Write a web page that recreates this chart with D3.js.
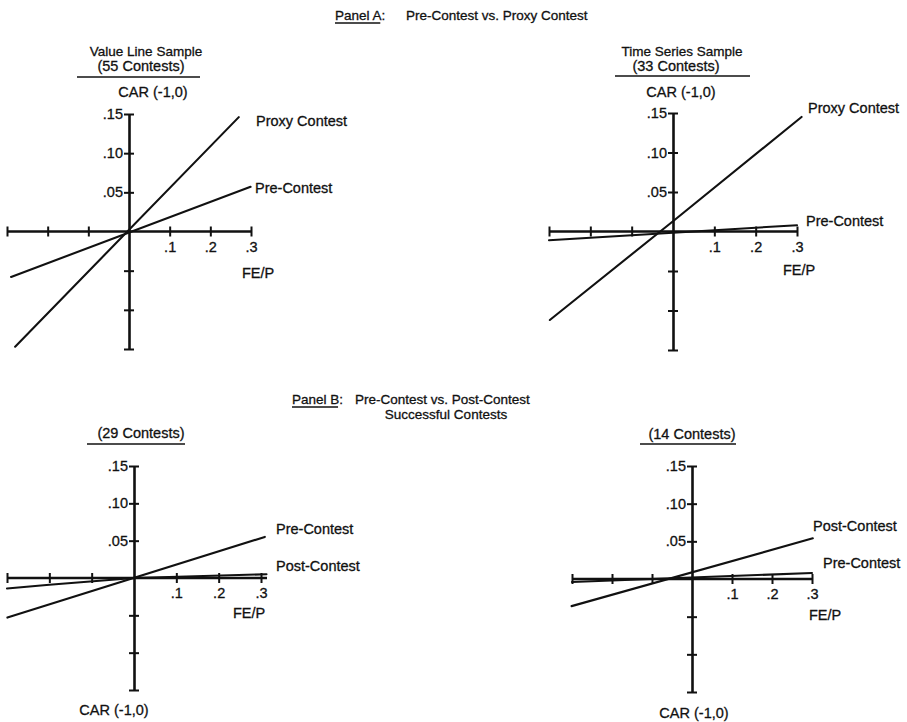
<!DOCTYPE html>
<html>
<head>
<meta charset="utf-8">
<script src="https://cdn.jsdelivr.net/npm/d3@7"></script>
<style>
  html, body { margin: 0; padding: 0; background: #fff; }
  svg text { font-family: "Liberation Sans", Arial, Helvetica, sans-serif; fill: #111; stroke: #111; stroke-width: 0.3px; }
</style>
</head>
<body>
<svg id="chart" width="907" height="722"></svg>
<script>
// ---- data ----
const xTicks = [-0.3, -0.2, -0.1, 0.1, 0.2, 0.3];
const xTickLabels = ["", "", "", ".1", ".2", ".3"];
const yTicks = [-0.15, -0.10, -0.05, 0.05, 0.10, 0.15];
const yTickLabels = ["", "", "", ".05", ".10", ".15"];

const panelTitles = ["Panel A:", "Panel B:"];
const panelSubtitles = ["Pre-Contest vs. Proxy Contest", "Pre-Contest vs. Post-Contest"];
const panelBSecondLine = "Successful Contests";

const sampleNames = ["Value Line Sample", "Time Series Sample", "", ""];
const sampleCounts = ["(55 Contests)", "(33 Contests)", "(29 Contests)", "(14 Contests)"];
const yAxisLabel = "CAR (-1,0)";
const xAxisLabel = "FE/P";

// each line: [FE/P, CAR] points
const aLeftProxy = [[-0.280, -0.147], [0.270, 0.146]];
const aLeftPre   = [[-0.290, -0.058], [0.299, 0.057]];
const aRightProxy = [[-0.298, -0.112], [0.0, 0.013], [0.311, 0.145]];
const aRightPre   = [[-0.300, -0.011], [0.300, 0.008]];
const bLeftPre  = [[-0.299, -0.053], [0.309, 0.055]];
const bLeftPost = [[-0.300, -0.014], [-0.200, -0.009], [0.0, 0.0], [0.313, 0.005]];
const bRightPost = [[-0.301, -0.036], [0.302, 0.054]];
const bRightPre  = [[-0.300, -0.004], [0.300, 0.008]];

// ---- layout ----
const svg = d3.select("#chart");
const FS = 14.5;

const panels = [
  { xr: [7, 251], yr: [349, 114], name: sampleNames[0], count: sampleCounts[0],
    nameX: 146, nameY: 51, countX: 141, countY: 66, ulX: [77, 200], ulY: 77,
    carX: 153, carY: 92, feX: 242, feY: 273, tickLabY: 5, axisExt: 0,
    series: [
      { data: aLeftProxy, label: "Proxy Contest", lx: 256, ly: 121 },
      { data: aLeftPre, label: "Pre-Contest", lx: 255, ly: 188 }
    ] },
  { xr: [549, 797], yr: [350, 113], name: sampleNames[1], count: sampleCounts[1],
    nameX: 682, nameY: 51, countX: 676, countY: 66, ulX: [615, 750], ulY: 76,
    carX: 681, carY: 92, feX: 783, feY: 270, tickLabY: 5, axisExt: 0,
    series: [
      { data: aRightProxy, label: "Proxy Contest", lx: 808, ly: 108 },
      { data: aRightPre, label: "Pre-Contest", lx: 806, ly: 221 }
    ] },
  { xr: [7, 261], yr: [690, 466], name: sampleNames[2], count: sampleCounts[2],
    nameX: 141, nameY: 418, countX: 141, countY: 433, ulX: [87, 185], ulY: 444,
    carX: 114, carY: 710, feX: 233, feY: 613, tickLabY: 5, axisExt: 6,
    series: [
      { data: bLeftPre, label: "Pre-Contest", lx: 276, ly: 529 },
      { data: bLeftPost, label: "Post-Contest", lx: 276, ly: 566 }
    ] },
  { xr: [572, 812], yr: [692, 466], name: sampleNames[3], count: sampleCounts[3],
    nameX: 693, nameY: 418, countX: 692, countY: 434, ulX: [640, 736], ulY: 444,
    carX: 694, carY: 713, feX: 809, feY: 615, tickLabY: 5, axisExt: 0,
    series: [
      { data: bRightPost, label: "Post-Contest", lx: 813, ly: 526 },
      { data: bRightPre, label: "Pre-Contest", lx: 823, ly: 563 }
    ] }
];

// ---- panel headings ----
function heading(x, subX, y, title, sub) {
  const g = svg.append("g");
  const t = g.append("text").attr("x", x).attr("y", y).attr("dy", "0.35em")
    .attr("font-size", FS - 1).text(title);
  const w = t.node().getComputedTextLength();
  g.append("line").attr("x1", x).attr("x2", x + w - 5).attr("y1", y + 8).attr("y2", y + 8)
    .attr("stroke", "#111").attr("stroke-width", 1.3);
  g.append("text").attr("x", subX).attr("y", y).attr("dy", "0.35em")
    .attr("font-size", FS - 1).text(sub);
}
heading(335, 406, 15, panelTitles[0], panelSubtitles[0]);
heading(292, 355, 399, panelTitles[1], panelSubtitles[1]);
svg.append("text").attr("x", 446).attr("y", 414).attr("dy", "0.35em")
  .attr("text-anchor", "middle").attr("font-size", FS - 1).text(panelBSecondLine);

// ---- panels ----
panels.forEach(p => {
  const x = d3.scaleLinear().domain([-0.3, 0.3]).range(p.xr);
  const y = d3.scaleLinear().domain([-0.15, 0.15]).range(p.yr);
  const g = svg.append("g");

  // x axis through origin
  const xa = g.append("g").attr("transform", `translate(0,${y(0)})`)
    .call(d3.axisBottom(x).tickValues(xTicks).tickFormat((d, i) => xTickLabels[i])
      .tickSizeInner(5).tickSizeOuter(0).tickPadding(p.tickLabY));
  xa.select(".domain").attr("stroke", "#111").attr("stroke-width", 2.4)
    .attr("d", `M${p.xr[0]},0H${p.xr[1] + p.axisExt}`);
  xa.selectAll(".tick line").attr("y1", -5).attr("y2", 5)
    .attr("stroke", "#111").attr("stroke-width", 2);
  xa.selectAll(".tick text").attr("font-size", FS).attr("fill", "#111")
    .attr("font-family", "Liberation Sans, Arial, sans-serif");

  // y axis through origin
  const ya = g.append("g").attr("transform", `translate(${x(0)},0)`)
    .call(d3.axisLeft(y).tickValues(yTicks).tickFormat((d, i) => yTickLabels[i])
      .tickSizeInner(5).tickSizeOuter(0).tickPadding(1));
  ya.select(".domain").attr("stroke", "#111").attr("stroke-width", 2.6);
  ya.selectAll(".tick line").attr("x1", -5).attr("x2", 5)
    .attr("stroke", "#111").attr("stroke-width", 2);
  ya.selectAll(".tick text").attr("font-size", FS).attr("fill", "#111")
    .attr("font-family", "Liberation Sans, Arial, sans-serif");

  // lines
  const line = d3.line().x(d => x(d[0])).y(d => y(d[1]));
  p.series.forEach(s => {
    g.append("path").datum(s.data).attr("d", line)
      .attr("fill", "none").attr("stroke", "#111").attr("stroke-width", 2.1)
      .attr("stroke-linecap", "round");
    g.append("text").attr("x", s.lx).attr("y", s.ly).attr("dy", "0.35em")
      .attr("font-size", FS).text(s.label);
  });

  // labels
  if (p.name) {
    g.append("text").attr("x", p.nameX).attr("y", p.nameY).attr("dy", "0.35em")
      .attr("text-anchor", "middle").attr("font-size", FS - 1).text(p.name);
  }
  g.append("text").attr("x", p.countX).attr("y", p.countY).attr("dy", "0.35em")
    .attr("text-anchor", "middle").attr("font-size", FS).text(p.count);
  g.append("line").attr("x1", p.ulX[0]).attr("x2", p.ulX[1]).attr("y1", p.ulY).attr("y2", p.ulY)
    .attr("stroke", "#111").attr("stroke-width", 1.6);
  g.append("text").attr("x", p.carX).attr("y", p.carY).attr("dy", "0.35em")
    .attr("text-anchor", "middle").attr("font-size", FS).text(yAxisLabel);
  g.append("text").attr("x", p.feX).attr("y", p.feY).attr("dy", "0.35em")
    .attr("font-size", FS).text(xAxisLabel);
});
</script>
</body>
</html>
